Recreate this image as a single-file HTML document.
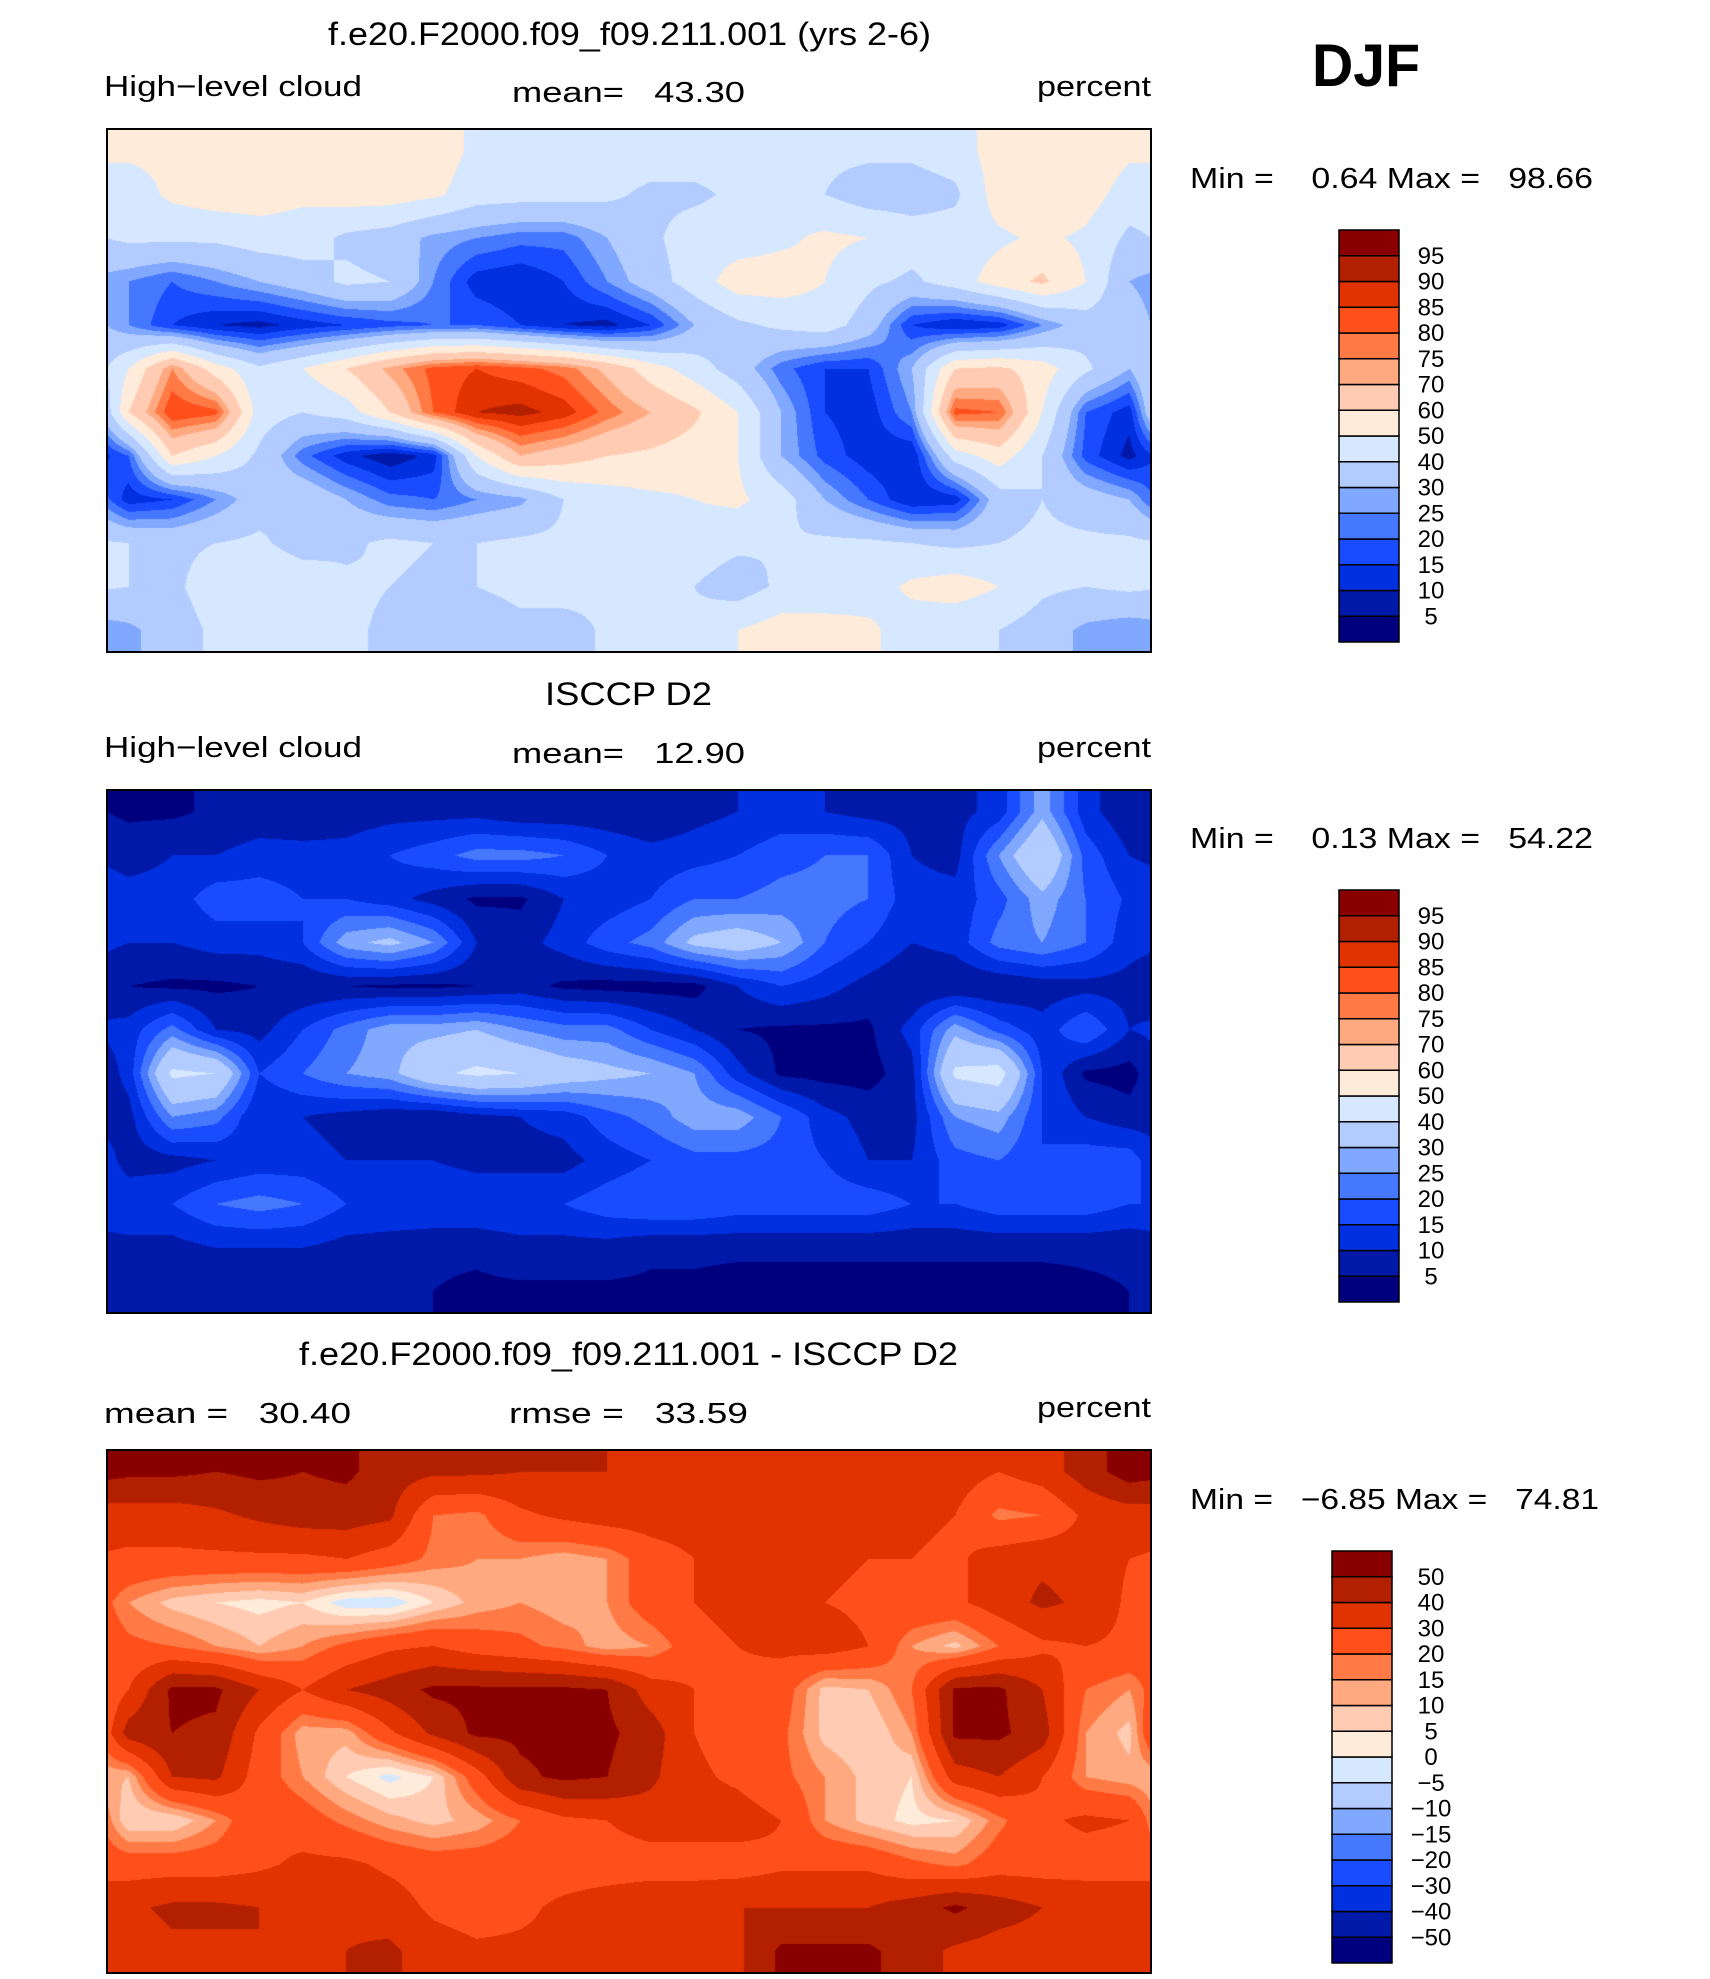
<!DOCTYPE html>
<html><head><meta charset="utf-8">
<style>
html,body{margin:0;padding:0;background:#fff;}
#root{position:relative;width:1710px;height:1979px;overflow:hidden;background:#fff;}
canvas{position:absolute;}
svg{position:absolute;left:0;top:0;}
text{font-family:"Liberation Sans",sans-serif;fill:#000;}
</style></head>
<body>
<div id="root">
<canvas id="m0" width="1044" height="523" style="left:107px;top:129px"></canvas>
<canvas id="m1" width="1044" height="523" style="left:107px;top:790px"></canvas>
<canvas id="m2" width="1044" height="523" style="left:107px;top:1450px"></canvas>
<svg id="s" width="1710" height="1979">
<text x="1312" y="86" font-size="60" font-weight="bold" textLength="108" lengthAdjust="spacingAndGlyphs">DJF</text>

<text x="328" y="45" font-size="32" textLength="603" lengthAdjust="spacingAndGlyphs">f.e20.F2000.f09_f09.211.001 (yrs 2-6)</text>
<text x="104" y="96" font-size="29" textLength="258" lengthAdjust="spacingAndGlyphs">High−level cloud</text>
<text x="512" y="102" font-size="29" textLength="233" lengthAdjust="spacingAndGlyphs" xml:space="preserve">mean=   43.30</text>
<text x="1037" y="96" font-size="29" textLength="114" lengthAdjust="spacingAndGlyphs">percent</text>
<text x="1190" y="188" font-size="29" textLength="403" lengthAdjust="spacingAndGlyphs" xml:space="preserve">Min =    0.64 Max =   98.66</text>

<text x="545" y="705" font-size="32" textLength="167" lengthAdjust="spacingAndGlyphs">ISCCP D2</text>
<text x="104" y="757" font-size="29" textLength="258" lengthAdjust="spacingAndGlyphs">High−level cloud</text>
<text x="512" y="763" font-size="29" textLength="233" lengthAdjust="spacingAndGlyphs" xml:space="preserve">mean=   12.90</text>
<text x="1037" y="757" font-size="29" textLength="114" lengthAdjust="spacingAndGlyphs">percent</text>
<text x="1190" y="848" font-size="29" textLength="403" lengthAdjust="spacingAndGlyphs" xml:space="preserve">Min =    0.13 Max =   54.22</text>

<text x="299" y="1365" font-size="32" textLength="659" lengthAdjust="spacingAndGlyphs">f.e20.F2000.f09_f09.211.001 - ISCCP D2</text>
<text x="104" y="1423" font-size="29" textLength="247" lengthAdjust="spacingAndGlyphs" xml:space="preserve">mean =   30.40</text>
<text x="509" y="1423" font-size="29" textLength="239" lengthAdjust="spacingAndGlyphs" xml:space="preserve">rmse =   33.59</text>
<text x="1037" y="1417" font-size="29" textLength="114" lengthAdjust="spacingAndGlyphs">percent</text>
<text x="1190" y="1509" font-size="29" textLength="409" lengthAdjust="spacingAndGlyphs" xml:space="preserve">Min =   −6.85 Max =   74.81</text>

<rect x="107" y="129" width="1044" height="523" fill="none" stroke="#000" stroke-width="2"/>
<rect x="107" y="790" width="1044" height="523" fill="none" stroke="#000" stroke-width="2"/>
<rect x="107" y="1450" width="1044" height="523" fill="none" stroke="#000" stroke-width="2"/>
<g id="cb"></g>
</svg>
</div>
<script>
// contour colours, lowest to highest
const colors = ["#00007f","#0019a8","#0030e0","#1a4cff","#4578ff","#80a8ff","#b3ccff","#d6e8ff","#ffebd9","#ffccb3","#ffa980","#ff7a45","#ff4f1a","#e03300","#b32000","#8a0000"];
// contour level boundaries
const levelsPct = [5,10,15,20,25,30,40,50,60,70,75,80,85,90,95];
const levelsDiff = [-50,-40,-30,-20,-15,-10,-5,0,5,10,15,20,30,40,50];
const labelsPct = ["5","10","15","20","25","30","40","50","60","70","75","80","85","90","95"];
const labelsDiff = ["−50","−40","−30","−20","−15","−10","−5","0","5","10","15","20","30","40","50"];
// gridded field values: 12 latitude rows (82.5N..82.5S) x 24 longitude columns (7.5E..352.5E)
const modelField = [
[52,52,55,55,55,55,55,55,48,45,45,45,45,45,45,45,42,42,42,45,55,58,58,52],
[45,52,55,55,52,55,55,52,45,44,44,42,38,38,42,45,40,35,35,38,55,60,55,45],
[42,42,42,45,45,38,35,28,25,22,22,30,38,45,45,48,52,50,45,45,48,52,48,38],
[25,20,25,30,35,42,40,25,12,10,15,25,35,45,55,55,50,42,38,45,55,62,50,30],
[25,15,10,8,12,15,18,20,20,15,10,8,15,30,38,42,45,35,15,10,12,25,35,35],
[50,75,55,42,50,60,72,82,85,82,78,68,55,45,35,22,15,15,30,60,62,55,42,30],
[60,85,82,45,40,45,60,80,90,92,88,78,70,62,50,30,15,12,25,82,80,50,20,12],
[20,60,50,38,22,12,6,12,50,70,65,60,58,55,50,30,18,12,10,45,55,40,18,8],
[12,15,25,35,38,30,22,20,25,28,40,45,48,50,52,45,30,20,10,12,35,40,35,30],
[40,38,40,42,35,38,42,40,40,42,42,45,45,45,42,40,42,42,40,38,40,42,42,42],
[40,38,45,50,48,42,40,38,40,42,45,42,40,40,35,42,42,45,52,55,50,42,40,42],
[28,35,42,42,45,42,38,35,35,38,35,42,42,42,50,55,55,52,45,42,40,35,28,25]];
const obsField = [
[4,4,6,7,6,7,8,8,8,6,6,6,5,8,10,12,10,8,8,8,12,28,12,6],
[8,10,10,12,12,12,15,18,22,22,20,15,12,13,15,18,20,20,10,8,25,40,18,10],
[12,12,18,18,15,15,12,8,4,4,10,12,15,20,20,22,22,20,12,12,18,28,20,14],
[10,10,12,12,15,28,32,25,10,8,12,18,22,32,35,30,20,15,10,12,22,25,20,12],
[5,4,4,5,5,5,4,4,5,7,4,3,3,3,10,15,12,8,5,5,5,7,8,8],
[12,22,10,8,15,22,28,28,30,25,22,22,15,10,5,4,4,4,12,28,18,12,20,10],
[12,42,40,15,20,25,28,38,42,40,35,32,30,25,12,4,3,3,8,42,45,15,4,3],
[8,25,22,10,10,8,6,5,8,10,12,18,22,28,28,20,12,8,8,25,28,15,10,7],
[7,8,10,12,12,10,10,10,8,8,8,12,15,18,18,18,15,10,10,18,20,15,18,18],
[15,15,20,22,20,15,15,15,15,15,15,18,20,20,18,18,18,18,15,15,18,18,18,15],
[8,8,10,10,10,8,7,6,6,8,8,8,6,6,6,6,6,6,6,6,6,6,6,6],
[6,7,8,8,8,5,5,5,4,4,4,4,4,4,3,3,3,3,3,3,3,3,4,5]];
const diffField = [
[52,52,50,52,50,52,45,42,42,40,40,40,35,35,35,35,35,35,35,35,30,35,45,55],
[35,35,38,42,45,45,42,20,18,28,32,35,35,35,35,35,35,35,32,30,18,20,32,35],
[28,28,28,28,28,30,25,18,15,15,12,15,25,30,35,35,32,30,30,28,35,38,35,30],
[15,8,5,3,5,-3,-4,5,12,15,12,15,25,30,35,35,30,28,28,28,35,42,38,28],
[22,20,15,10,15,22,28,30,25,22,18,12,15,25,30,32,35,30,15,8,20,28,30,28],
[30,52,52,40,30,40,45,52,52,52,52,50,35,30,28,25,8,10,20,52,52,40,20,15],
[45,50,48,28,12,12,28,42,52,52,52,52,45,30,25,22,8,5,15,52,52,45,15,8],
[10,40,42,25,15,5,-2,5,25,48,52,50,42,32,28,22,15,8,5,35,40,30,15,12],
[5,5,15,28,25,18,12,8,12,20,28,30,35,35,35,30,15,8,3,5,18,28,32,30],
[25,25,25,28,32,32,28,25,25,25,25,25,25,25,25,28,28,28,22,18,25,25,25,25],
[38,42,42,40,40,38,35,28,25,28,32,35,38,38,40,40,40,40,45,52,45,40,38,38],
[35,38,38,40,35,40,42,35,32,32,32,32,35,35,38,52,52,52,45,38,35,35,38,38]];

function hex(c){return [parseInt(c.substr(1,2),16),parseInt(c.substr(3,2),16),parseInt(c.substr(5,2),16)];}
const rgb = colors.map(hex);
function level(v, lv){let i=0;while(i<lv.length && v>=lv[i]) i++;return i;}
function drawMap(id, field, lv){
  const cv=document.getElementById(id), ctx=cv.getContext('2d');
  const W=cv.width,H=cv.height, nr=field.length, nc=field[0].length;
  const img=ctx.createImageData(W,H);
  for(let y=0;y<H;y++){
    let fy=(y+0.5)/H*nr-0.5; if(fy<0)fy=0; if(fy>nr-1)fy=nr-1;
    const r0=Math.floor(fy), r1=Math.min(nr-1,r0+1), ty=fy-r0;
    for(let x=0;x<W;x++){
      let fx=(x+0.5)/W*nc-0.5; if(fx<0)fx+=nc;
      const c0=Math.floor(fx)%nc, c1=(c0+1)%nc, tx=fx-Math.floor(fx);
      const v=(field[r0][c0]*(1-tx)+field[r0][c1]*tx)*(1-ty)+(field[r1][c0]*(1-tx)+field[r1][c1]*tx)*ty;
      const k=rgb[level(v,lv)], p=(y*W+x)*4;
      img.data[p]=k[0];img.data[p+1]=k[1];img.data[p+2]=k[2];img.data[p+3]=255;
    }
  }
  ctx.putImageData(img,0,0);
}
drawMap('m0',modelField,levelsPct);
drawMap('m1',obsField,levelsPct);
drawMap('m2',diffField,levelsDiff);

const NS="http://www.w3.org/2000/svg";
const cbg=document.getElementById('cb');
function colorbar(x,y,w,h,labels,lx,tag){
  const n=colors.length, bh=h/n;
  for(let i=0;i<n;i++){
    const r=document.createElementNS(NS,'rect');
    
    
    r.setAttribute('x',x);r.setAttribute('y',y+(n-1-i)*bh);
    r.setAttribute('width',w);r.setAttribute('height',bh);
    r.setAttribute('fill',colors[i]);r.setAttribute('stroke','#000');r.setAttribute('stroke-width','1.5');
    cbg.appendChild(r);
  }
  for(let i=0;i<labels.length;i++){
    const t=document.createElementNS(NS,'text');
    
    
    t.setAttribute('x',lx);t.setAttribute('y',y+(n-1-i)*bh+8);
    t.setAttribute('font-size','24');t.setAttribute('text-anchor','middle');
    t.textContent=labels[i];
    cbg.appendChild(t);
  }
}
colorbar(1339,230,60,412,labelsPct,1431,'colorbar-1');
colorbar(1339,890,60,412,labelsPct,1431,'colorbar-2');
colorbar(1332,1551,60,412,labelsDiff,1431,'colorbar-3');
</script>
</body></html>
